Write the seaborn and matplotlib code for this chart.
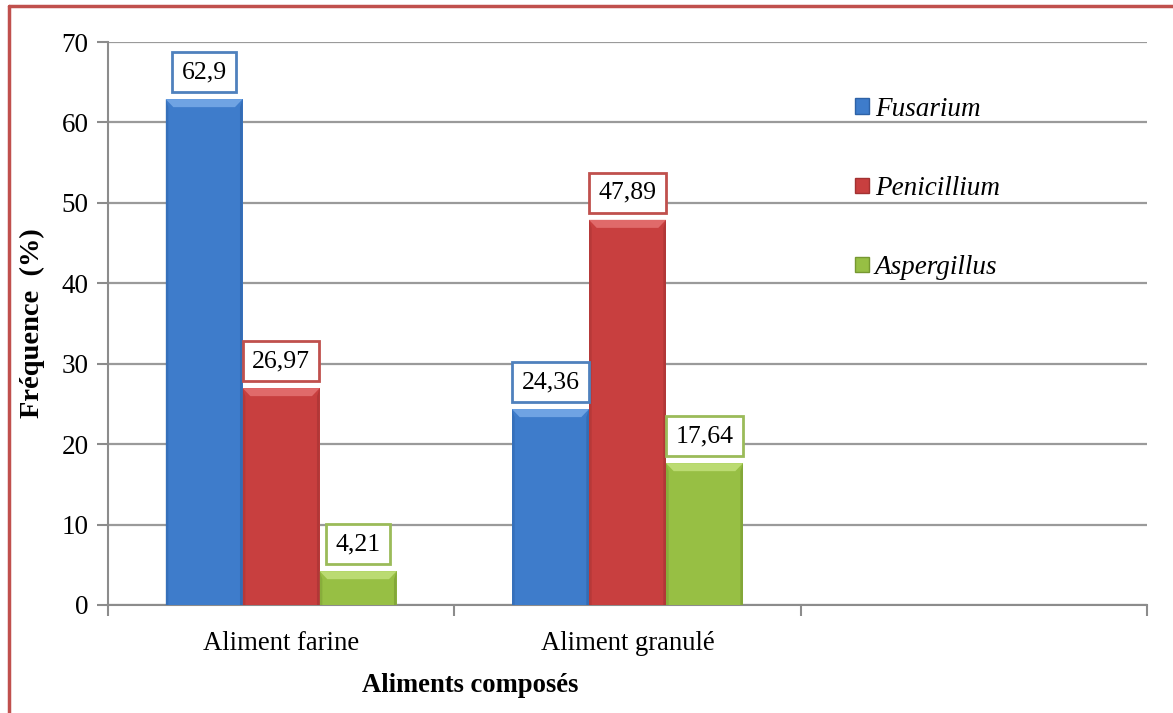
import matplotlib
matplotlib.use("Agg")
import matplotlib.pyplot as plt
import seaborn as sns
import pandas as pd
import numpy as np
from matplotlib.lines import Line2D
from matplotlib.patches import Polygon

# ---- data ----
categories = ["Aliment farine", "Aliment granulé", " "]
genres = ["Fusarium", "Penicillium", "Aspergillus"]
fusarium = [62.9, 24.36]
penicillium = [26.97, 47.89]
aspergillus = [4.21, 17.64]
value_labels = {
    "Fusarium": ["62,9", "24,36"],
    "Penicillium": ["26,97", "47,89"],
    "Aspergillus": ["4,21", "17,64"],
}
y_ticks = [0, 10, 20, 30, 40, 50, 60, 70]

colors = {"Fusarium": "#3E7CCB", "Penicillium": "#C83F3F", "Aspergillus": "#97BF44"}
light = {"Fusarium": "#6FA3E3", "Penicillium": "#E06A6A", "Aspergillus": "#BBDB72"}
dark = {"Fusarium": "#2E62A6", "Penicillium": "#A23232", "Aspergillus": "#769831"}
box_edge = {"Fusarium": "#4F81BD", "Penicillium": "#C0504D", "Aspergillus": "#9BBB59"}

rows = []
for g, vals in zip(genres, [fusarium, penicillium, aspergillus]):
    for c, v in zip(categories[:2], vals):
        rows.append({"cat": c, "genre": g, "val": v})
df = pd.DataFrame(rows)

sns.set_theme(style="white")
plt.rcParams["font.family"] = ["Liberation Serif", "DejaVu Serif"]
plt.rcParams["text.color"] = "black"
plt.rcParams["axes.labelcolor"] = "black"
plt.rcParams["xtick.labelcolor"] = "black"
plt.rcParams["ytick.labelcolor"] = "black"

fig = plt.figure(figsize=(11.73, 7.13), dpi=100)
ax = fig.add_axes([108 / 1173, 1 - 605 / 713, (1147 - 108) / 1173, (605 - 42) / 713])

sns.barplot(data=df, x="cat", y="val", hue="genre", order=categories,
            hue_order=genres, palette=colors, width=0.667, ax=ax,
            saturation=1, edgecolor="none", linewidth=0, legend=True, zorder=3)

ax.set_xlim(-0.5, 2.5)
ax.set_ylim(0, 70)
ax.set_yticks(y_ticks)
ax.tick_params(axis="y", labelsize=19.5, length=8, width=1.5, color="#8C8C8C",
               labelcolor="black", left=True, direction="out", pad=6)
ax.yaxis.grid(True, color="#9A9A9A", linewidth=1.6, zorder=0)
ax.set_axisbelow(True)

# category labels centered, tick marks between categories
ax.set_xticks([0, 1, 2])
ax.set_xticklabels(categories, fontsize=19.2)
ax.tick_params(axis="x", length=0, pad=19, labelcolor="black")
ax.set_xticks([-0.5, 0.5, 1.5, 2.5], minor=True)
ax.tick_params(axis="x", which="minor", length=8, width=1.5, color="#8C8C8C",
               bottom=True, direction="out")

for side in ["top", "right"]:
    ax.spines[side].set_visible(False)
for side in ["left", "bottom"]:
    ax.spines[side].set_color("#8C8C8C")
    ax.spines[side].set_linewidth(1.5)

ax.set_xlabel("")
ax.set_ylabel("Fréquence  (%)", fontsize=20.5, fontweight="bold", labelpad=12,
              color="black")

# bevel shading and labelled values on each bar
bev_y = 1.0
for cont, g in zip(ax.containers, genres):
    for k, patch in enumerate(cont.patches):
        h = patch.get_height()
        if not np.isfinite(h) or h <= 0:
            continue
        x0 = patch.get_x()
        w = patch.get_width()
        bev_x = w * 0.1
        top = Polygon([[x0, h], [x0 + w, h], [x0 + w - bev_x, h - bev_y],
                       [x0 + bev_x, h - bev_y]], closed=True,
                      facecolor=light[g], edgecolor="none", zorder=4)
        ax.add_patch(top)
        left = Polygon([[x0, h], [x0 + bev_x * 0.35, h - bev_y], [x0 + bev_x * 0.35, 0],
                        [x0, 0]], closed=True, facecolor=dark[g], edgecolor="none",
                       alpha=0.45, zorder=4)
        right = Polygon([[x0 + w, h], [x0 + w - bev_x * 0.35, h - bev_y],
                         [x0 + w - bev_x * 0.35, 0], [x0 + w, 0]], closed=True,
                        facecolor=dark[g], edgecolor="none", alpha=0.6, zorder=4)
        ax.add_patch(left)
        ax.add_patch(right)
        ax.annotate(value_labels[g][k], xy=(x0 + w / 2, h), xytext=(0, 27),
                    textcoords="offset pixels", ha="center", va="center",
                    fontsize=18.5, zorder=6, color="black",
                    bbox=dict(boxstyle="square,pad=0.36", facecolor="white",
                              edgecolor=box_edge[g], linewidth=2))

# legend
handles = [plt.Rectangle((0, 0), 1, 1, facecolor=colors[g], edgecolor=dark[g]) for g in genres]
leg = ax.legend(handles, genres, loc="upper left", bbox_to_anchor=(0.709, 0.922),
                frameon=False, fontsize=19.5, handlelength=0.5, handleheight=0.5,
                handletextpad=0.22, labelspacing=2.0, borderaxespad=0)
for t in leg.get_texts():
    t.set_fontstyle("italic")
    t.set_color("black")

# axis title for categories
fig.text(470 / 1173, 1 - 686 / 713, "Aliments composés", ha="center", va="center",
         fontsize=19.2, fontweight="bold", color="black")

# outer frame (left and top)
fig.add_artist(Line2D([9 / 1173, 9 / 1173], [0, 1 - 6 / 713], color="#C0504D",
                      linewidth=2.5, transform=fig.transFigure))
fig.add_artist(Line2D([9 / 1173, 1], [1 - 6 / 713, 1 - 6 / 713], color="#C0504D",
                      linewidth=2.5, transform=fig.transFigure))

fig.savefig("out.png", dpi=100, facecolor="white")
